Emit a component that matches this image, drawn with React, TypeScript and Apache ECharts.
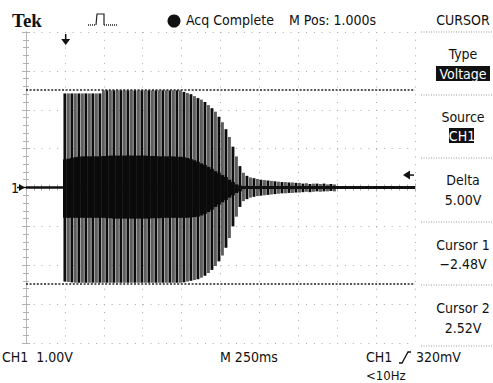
import React, { useEffect, useRef } from "react";
import * as echarts from "echarts";

// ---- scale (oscilloscope graticule) ----
const TIME_MIN = 0;
const TIME_MAX = 2.5; // 10 div x 250 ms
const TIME_DIV = 0.25;
const VOLT_MIN = -4;
const VOLT_MAX = 4;
const VOLT_DIV = 1;

// ---- acquisition record ----
const STRIPE_START = 0.25; // s, start of burst
const STRIPE_STEP = 0.0225; // s, one display column

// outer envelope, V
const outerTop = [
  2.42, 2.42, 2.42, 2.42, 2.42, 2.42, 2.42, 2.42, 2.42, 2.42, 2.42,
  2.5, 2.5, 2.5, 2.5, 2.5, 2.5, 2.5, 2.5, 2.5, 2.5, 2.5, 2.5, 2.5, 2.5, 2.5, 2.5, 2.5, 2.5, 2.5, 2.5, 2.5, 2.5, 2.5,
  2.46, 2.43, 2.4, 2.35, 2.3, 2.26, 2.2, 2.12, 2.04, 1.95, 1.82, 1.68, 1.5, 1.3, 1.05, 0.8, 0.55, 0.38,
  0.3, 0.26, 0.24, 0.22, 0.2, 0.19, 0.18, 0.17, 0.16, 0.15, 0.14, 0.14, 0.13, 0.13, 0.12, 0.12,
  0.1, 0.11, 0.09, 0.1, 0.1, 0.09, 0.1, 0.08, 0.09, 0.08,
];
const outerBottom = [
  -2.42, -2.43, -2.44, -2.45, -2.45, -2.45, -2.45, -2.45, -2.45, -2.45, -2.45,
  -2.45, -2.45, -2.45, -2.45, -2.45, -2.45, -2.45, -2.45, -2.45, -2.45, -2.45, -2.45, -2.45, -2.45, -2.45, -2.45, -2.45, -2.45, -2.45, -2.45, -2.45, -2.45, -2.45,
  -2.44, -2.42, -2.4, -2.38, -2.36, -2.32, -2.27, -2.2, -2.12, -2.02, -1.9, -1.75, -1.55, -1.3, -1.0, -0.75, -0.5, -0.35,
  -0.3, -0.26, -0.24, -0.22, -0.21, -0.2, -0.19, -0.18, -0.17, -0.16, -0.15, -0.15, -0.14, -0.14, -0.13, -0.13,
  -0.12, -0.11, -0.12, -0.11, -0.1, -0.11, -0.1, -0.1, -0.09, -0.1,
];
// dense inner band, V
const innerTop = [
  0.72, 0.74, 0.76, 0.78, 0.79, 0.8, 0.8, 0.8, 0.8, 0.8, 0.8,
  0.81, 0.81, 0.82, 0.82, 0.82, 0.82, 0.82, 0.82, 0.82, 0.82, 0.82, 0.82, 0.82, 0.81, 0.81, 0.81, 0.8, 0.8, 0.8, 0.8, 0.8, 0.79, 0.79,
  0.78, 0.76, 0.73, 0.7, 0.66, 0.62, 0.58, 0.53, 0.48, 0.42, 0.37, 0.32, 0.27, 0.2, 0.14, 0.08, 0.05,
];
const innerBottom = [
  -0.78, -0.78, -0.78, -0.78, -0.78, -0.78, -0.78, -0.78, -0.78, -0.78, -0.78,
  -0.78, -0.79, -0.79, -0.8, -0.8, -0.8, -0.8, -0.8, -0.8, -0.8, -0.8, -0.8, -0.8, -0.8, -0.79, -0.79, -0.79, -0.78, -0.78, -0.78, -0.78, -0.78, -0.78,
  -0.78, -0.78, -0.77, -0.76, -0.75, -0.72, -0.68, -0.63, -0.57, -0.5, -0.44, -0.38, -0.32, -0.26, -0.2, -0.14, -0.1,
];
// quiet trace before and after the burst
const traceBefore = [
  [0, 0.0],
  [0.25, 0.0],
];
const traceAfter = [
  [1.34, 0.0],
  [2.5, 0.0],
];
const cursorLevels = [2.52, -2.48];
const triggerTime = 0.255;
const triggerLevel = 0.32;

const FONT = "'Liberation Sans Narrow', 'DejaVu Sans Condensed', Roboto, sans-serif";

export default function App() {
  const ref = useRef<HTMLDivElement>(null);
  useEffect(() => {
    if (!ref.current) return;
    const chart = echarts.init(ref.current, undefined, { renderer: "svg" });

    const stripes = outerTop.map((v, i) => [STRIPE_START + STRIPE_STEP * i, outerBottom[i], v, i]);
    const inner = innerTop.map((v, i) => [STRIPE_START + STRIPE_STEP * i, innerBottom[i], v, i]);

    const gl = { left: 26, top: 32, width: 389, height: 311 };
    const dotted = { color: "#a8a8a8", width: 1, type: [1, 6.78] as any };
    const frame = { show: true, lineStyle: { color: "#b8b8b8", width: 1 } };
    const minor = { show: true, splitNumber: 5, length: 3, lineStyle: { color: "#b0b0b0" } };
    const tick = { show: true, inside: true, length: 4, lineStyle: { color: "#b0b0b0" } };

    const panelSeps = [32, 95, 158, 222, 285, 346];
    const graphic: any[] = [];
    panelSeps.forEach((y) =>
      graphic.push({
        type: "line",
        shape: { x1: 421, y1: y, x2: 493, y2: y },
        style: { stroke: "#999", lineWidth: 1, lineDash: [1, 1.5] },
      })
    );
    const txt = (x: number, y: number, text: string, opts: any = {}) =>
      graphic.push({
        type: "text",
        x,
        y,
        style: {
          text,
          fill: opts.fill || "#111",
          font: `${opts.weight || "normal"} ${opts.size || 14}px ${opts.family || FONT}`,
          textAlign: opts.align || "left",
          textVerticalAlign: "middle",
        },
        z: 10,
      });
    // header
    txt(12, 20, "Tek", { size: 19, weight: "bold", family: "'Liberation Serif', serif" });
    graphic.push({
      type: "polyline",
      shape: { points: [[88, 25], [96, 25]] },
      style: { stroke: "#222", lineWidth: 1.4, lineDash: [1, 1] },
    });
    graphic.push({
      type: "polyline",
      shape: { points: [[96, 25], [97, 14], [104, 14], [104, 25]] },
      style: { stroke: "#222", lineWidth: 1.2, fill: null },
    });
    graphic.push({
      type: "polyline",
      shape: { points: [[104, 25], [117, 25]] },
      style: { stroke: "#222", lineWidth: 1.4, lineDash: [1, 1] },
    });
    graphic.push({ type: "circle", shape: { cx: 174, cy: 21, r: 6.5 }, style: { fill: "#111" } });
    txt(186, 20, "Acq Complete", { size: 14 });
    txt(289, 20, "M Pos: 1.000s", { size: 14 });
    txt(463, 20, "CURSOR", { size: 14, align: "center" });
    // right panel
    txt(463, 54, "Type", { size: 14, align: "center" });
    graphic.push({ type: "rect", shape: { x: 436, y: 66, width: 54, height: 15 }, style: { fill: "#111" } });
    txt(463, 74, "Voltage", { size: 14, align: "center", fill: "#fff" });
    txt(463, 117, "Source", { size: 14, align: "center" });
    graphic.push({ type: "rect", shape: { x: 449, y: 128, width: 25, height: 15 }, style: { fill: "#111" } });
    txt(462, 136, "CH1", { size: 14, align: "center", fill: "#fff" });
    txt(463, 180, "Delta", { size: 14, align: "center" });
    txt(463, 200, "5.00V", { size: 14, align: "center" });
    txt(463, 245, "Cursor 1", { size: 14, align: "center" });
    txt(463, 264, "\u22122.48V", { size: 14, align: "center" });
    txt(463, 308, "Cursor 2", { size: 14, align: "center" });
    txt(463, 328, "2.52V", { size: 14, align: "center" });
    // bottom
    txt(2, 357, "CH1  1.00V", { size: 14 });
    txt(220, 357, "M 250ms", { size: 14 });
    txt(366, 357, "CH1", { size: 14 });
    graphic.push({
      type: "polyline",
      shape: { points: [[399, 363], [402, 363], [408, 352], [411, 352]] },
      style: { stroke: "#111", lineWidth: 1.3, fill: null },
    });
    txt(416, 357, "320mV", { size: 14 });
    txt(366, 375, "<10Hz", { size: 13 });

    chart.setOption({
      animation: false,
      backgroundColor: "#fff",
      grid: gl,
      xAxis: [
        {
          type: "value",
          min: TIME_MIN,
          max: TIME_MAX,
          interval: TIME_DIV,
          axisLine: frame,
          axisTick: tick,
          minorTick: minor,
          axisLabel: { show: false },
          splitLine: { show: true, lineStyle: dotted },
        },
        {
          type: "value",
          position: "top",
          min: TIME_MIN,
          max: TIME_MAX,
          interval: TIME_DIV,
          axisLine: frame,
          axisTick: tick,
          minorTick: minor,
          axisLabel: { show: false },
          splitLine: { show: false },
        },
      ],
      yAxis: [
        {
          type: "value",
          min: VOLT_MIN,
          max: VOLT_MAX,
          interval: VOLT_DIV,
          axisLine: frame,
          axisTick: tick,
          minorTick: minor,
          axisLabel: { show: false },
          splitLine: { show: true, lineStyle: dotted },
        },
        {
          type: "value",
          position: "right",
          min: VOLT_MIN,
          max: VOLT_MAX,
          interval: VOLT_DIV,
          axisLine: frame,
          axisTick: tick,
          minorTick: minor,
          axisLabel: { show: false },
          splitLine: { show: false },
        },
      ],
      graphic,
      series: [
        {
          type: "custom",
          data: stripes,
          encode: { x: 0, y: [1, 2] },
          renderItem: (params: any, api: any) => {
            const t = api.value(0);
            const a = api.coord([t, api.value(2)]);
            const b = api.coord([t, api.value(1)]);
            const i = api.value(3);
            return {
              type: "line",
              shape: { x1: a[0], y1: a[1], x2: b[0], y2: b[1] },
              style: { stroke: i % 2 ? "#5e5e5e" : "#0d0d0d", lineWidth: 2.9 },
            };
          },
          z: 3,
        },
        {
          type: "custom",
          data: inner,
          encode: { x: 0, y: [1, 2] },
          renderItem: (params: any, api: any) => {
            const t = api.value(0);
            const a = api.coord([t, api.value(2)]);
            const b = api.coord([t, api.value(1)]);
            return {
              type: "rect",
              shape: { x: a[0] - 1.9, y: a[1], width: 3.8, height: b[1] - a[1] },
              style: { fill: "#0a0a0a" },
            };
          },
          z: 4,
        },
        {
          type: "line",
          data: traceBefore,
          symbol: "none",
          lineStyle: { color: "#111", width: 2.5 },
          z: 5,
        },
        {
          type: "line",
          data: traceAfter,
          symbol: "none",
          lineStyle: { color: "#111", width: 3 },
          z: 5,
          markLine: {
            silent: true,
            symbol: "none",
            label: { show: false },
            lineStyle: { color: "#222", width: 1.6, type: [2, 1.6] as any },
            data: cursorLevels.map((v) => ({ yAxis: v })),
          },
        },
        {
          // trigger position marker (top) and level marker (right)
          type: "custom",
          data: [[triggerTime, triggerLevel]],
          encode: { x: 0, y: 1 },
          renderItem: (params: any, api: any) => {
            const p = api.coord([api.value(0), api.value(1)]);
            const c0 = api.coord([api.value(0), VOLT_MAX]);
            const right = api.coord([TIME_MAX, api.value(1)]);
            const zero = api.coord([TIME_MIN, 0]);
            return {
              type: "group",
              children: [
                { type: "line", shape: { x1: p[0], y1: c0[1] + 2, x2: p[0], y2: c0[1] + 8 }, style: { stroke: "#111", lineWidth: 1.5 } },
                { type: "polygon", shape: { points: [[p[0] - 4.5, c0[1] + 7], [p[0] + 4.5, c0[1] + 7], [p[0], c0[1] + 13]] }, style: { fill: "#111" } },
                { type: "line", shape: { x1: right[0] - 6, y1: right[1], x2: right[0] - 1, y2: right[1] }, style: { stroke: "#111", lineWidth: 1.5 } },
                { type: "polygon", shape: { points: [[right[0] - 12, right[1]], [right[0] - 5, right[1] - 4.5], [right[0] - 5, right[1] + 4.5]] }, style: { fill: "#111" } },
                { type: "text", x: zero[0] - 15, y: zero[1], style: { text: "1", font: `14px ${FONT}`, fill: "#111", textVerticalAlign: "middle" } },
                { type: "polygon", shape: { points: [[zero[0] - 7, zero[1] - 3.5], [zero[0] - 1, zero[1]], [zero[0] - 7, zero[1] + 3.5]] }, style: { fill: "#111" } },
                { type: "line", shape: { x1: zero[0] - 9, y1: zero[1], x2: zero[0], y2: zero[1] }, style: { stroke: "#111", lineWidth: 1.5 } },
              ],
            };
          },
          z: 6,
        },
      ],
    });
    return () => chart.dispose();
  }, []);
  return <div ref={ref} style={{ position: "fixed", left: 0, top: 0, width: 493, height: 383 }} />;
}
